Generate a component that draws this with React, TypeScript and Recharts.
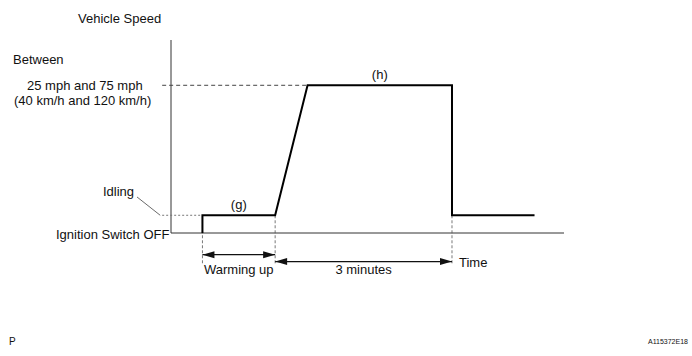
import React from "react";
import {
  Label,
  Line,
  LineChart,
  ReferenceLine,
  XAxis,
  YAxis,
} from "recharts";

// time in seconds, speed in mph
const times = [32, 32, 106, 139, 286, 286, 370];
const speeds = [0, 9, 9, 75, 75, 9, 9];

const WARM_START = 32;
const WARM_END = 106;
const HOLD_END = 286;
const IDLE = 9;
const TARGET = 75;
const X_MAX = 400;
const Y_MAX = 98;

const data = times.map((t, i) => ({ t, v: speeds[i] }));

const FONT = "'Liberation Sans', Arial, Helvetica, sans-serif";
const INK = "#111";

// double-headed arrow drawn between the segment ends
const Arrow = (p: any) => {
  const { x1, y1, x2, y2 } = p;
  const l = Math.min(x1, x2);
  const r = Math.max(x1, x2);
  const y = y1 ?? y2;
  return (
    <g>
      <line x1={l} y1={y} x2={r} y2={y} stroke={INK} strokeWidth={1.2} />
      <polygon points={`${l},${y} ${l + 12},${y - 3.5} ${l + 12},${y + 3.5}`} fill={INK} />
      <polygon points={`${r},${y} ${r - 12},${y - 3.5} ${r - 12},${y + 3.5}`} fill={INK} />
    </g>
  );
};

const txt = (
  text: string,
  left: number,
  cy: number,
  extra: React.CSSProperties = {}
) => (
  <div
    style={{
      position: "absolute",
      left,
      top: cy - 8,
      lineHeight: "16px",
      fontSize: 13,
      fontFamily: FONT,
      color: INK,
      whiteSpace: "nowrap",
      ...extra,
    }}
  >
    {text}
  </div>
);

export default function App() {
  return (
    <div
      style={{
        position: "absolute",
        left: 0,
        top: 0,
        width: 692,
        height: 356,
        background: "#fff",
      }}
    >
      <LineChart
        width={692}
        height={356}
        data={data}
        margin={{ top: 40, right: 128, bottom: 123, left: 171 }}
      >
        <XAxis dataKey="t" type="number" domain={[0, X_MAX]} hide />
        <YAxis type="number" domain={[0, Y_MAX]} hide />
        {/* axes */}
        <ReferenceLine
          segment={[{ x: 0, y: 0 }, { x: X_MAX, y: 0 }]}
          stroke="#333"
          ifOverflow="visible"
        />
        <ReferenceLine
          segment={[{ x: 0, y: 0 }, { x: 0, y: Y_MAX }]}
          stroke="#333"
          ifOverflow="visible"
        />
        {/* guide lines */}
        <ReferenceLine
          segment={[{ x: -9, y: TARGET }, { x: 139, y: TARGET }]}
          stroke="#444"
          strokeDasharray="4 3"
          ifOverflow="visible"
        />
        <ReferenceLine
          segment={[{ x: -9, y: IDLE }, { x: WARM_START, y: IDLE }]}
          stroke="#777"
          strokeDasharray="2 2"
          ifOverflow="visible"
        />
        <ReferenceLine
          segment={[{ x: -34.6, y: 18.3 }, { x: -11, y: IDLE }]}
          stroke="#444"
          strokeWidth={0.8}
          ifOverflow="visible"
        />
        {[WARM_START, WARM_END, HOLD_END].map((x) => (
          <ReferenceLine
            key={x}
            segment={[{ x, y: IDLE }, { x, y: -15.5 }]}
            stroke="#555"
            strokeDasharray="3 2"
            strokeWidth={0.8}
            ifOverflow="visible"
          />
        ))}
        <ReferenceLine
          segment={[{ x: WARM_START, y: IDLE }, { x: WARM_END, y: IDLE }]}
          stroke="none"
          ifOverflow="visible"
        >
          <Label value="(g)" position="top" offset={6} fill={INK} fontSize={13} fontFamily={FONT} />
        </ReferenceLine>
        <ReferenceLine
          segment={[{ x: 139, y: TARGET }, { x: HOLD_END, y: TARGET }]}
          stroke="none"
          ifOverflow="visible"
        >
          <Label value="(h)" position="top" offset={6} fill={INK} fontSize={13} fontFamily={FONT} />
        </ReferenceLine>
        <ReferenceLine
          segment={[{ x: WARM_START, y: -11 }, { x: WARM_END, y: -11 }]}
          shape={Arrow}
          ifOverflow="visible"
        >
          <Label value="Warming up" position="bottom" offset={10} fill={INK} fontSize={13} fontFamily={FONT} />
        </ReferenceLine>
        <ReferenceLine
          segment={[{ x: WARM_END, y: -14.5 }, { x: HOLD_END, y: -14.5 }]}
          shape={Arrow}
          ifOverflow="visible"
        >
          <Label value="3 minutes" position="bottom" offset={3} fill={INK} fontSize={13} fontFamily={FONT} />
        </ReferenceLine>
        <Line
          type="linear"
          dataKey="v"
          stroke="#000"
          strokeWidth={2}
          dot={false}
          isAnimationActive={false}
        />
      </LineChart>
      {txt("Vehicle Speed", 78, 19)}
      {txt("Between", 13, 60)}
      {txt("25 mph and 75 mph", 27, 86)}
      {txt("(40 km/h and 120 km/h)", 14, 101)}
      {txt("Idling", 103, 192)}
      {txt("Ignition Switch OFF", 56, 235)}
      {txt("Time", 459, 263)}
      {txt("P", 9, 342, { fontSize: 10 })}
      {txt("A115372E18", 648, 342, { fontSize: 7 })}
    </div>
  );
}
